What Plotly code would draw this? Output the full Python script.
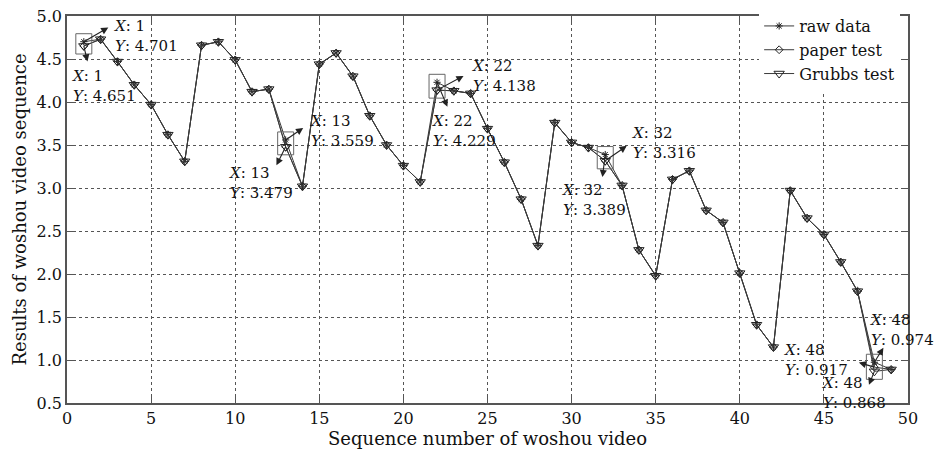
import plotly.graph_objects as go

# ---------------- data ----------------
seq = list(range(1, 50))
raw_data = [4.701, 4.73, 4.47, 4.20, 3.97, 3.62, 3.31, 4.66, 4.70, 4.49,
            4.12, 4.15, 3.559, 3.02, 4.44, 4.57, 4.30, 3.84, 3.50, 3.26,
            3.07, 4.229, 4.13, 4.10, 3.69, 3.30, 2.87, 2.33, 3.76, 3.53,
            3.47, 3.389, 3.03, 2.28, 1.98, 3.10, 3.20, 2.74, 2.60, 2.01,
            1.41, 1.15, 2.97, 2.65, 2.46, 2.14, 1.80, 0.974, 0.89]
paper_test = [4.651, 4.73, 4.47, 4.20, 3.97, 3.62, 3.31, 4.66, 4.70, 4.49,
              4.12, 4.15, 3.479, 3.02, 4.44, 4.57, 4.30, 3.84, 3.50, 3.26,
              3.07, 4.138, 4.13, 4.10, 3.69, 3.30, 2.87, 2.33, 3.76, 3.53,
              3.47, 3.316, 3.03, 2.28, 1.98, 3.10, 3.20, 2.74, 2.60, 2.01,
              1.41, 1.15, 2.97, 2.65, 2.46, 2.14, 1.80, 0.917, 0.89]
grubbs_test = [4.651, 4.73, 4.47, 4.20, 3.97, 3.62, 3.31, 4.66, 4.70, 4.49,
               4.12, 4.15, 3.479, 3.02, 4.44, 4.57, 4.30, 3.84, 3.50, 3.26,
               3.07, 4.138, 4.13, 4.10, 3.69, 3.30, 2.87, 2.33, 3.76, 3.53,
               3.47, 3.316, 3.03, 2.28, 1.98, 3.10, 3.20, 2.74, 2.60, 2.01,
               1.41, 1.15, 2.97, 2.65, 2.46, 2.14, 1.80, 0.868, 0.89]
series_names = ["raw data", "paper test", "Grubbs test"]
x_ticks = [0, 5, 10, 15, 20, 25, 30, 35, 40, 45, 50]
y_ticks = [0.5, 1.0, 1.5, 2.0, 2.5, 3.0, 3.5, 4.0, 4.5, 5.0]
x_title = "Sequence number of woshou video"
y_title = "Results of woshou video sequence"

# data tips: (series index, sequence number)
tip_refs = [(0, 1), (1, 1), (0, 13), (1, 13), (1, 22), (0, 22),
            (1, 32), (0, 32), (0, 48), (1, 48), (2, 48)]

# ---------------- styling ----------------
FONT = "DejaVu Serif"
LINE_C = "#3a3a3a"
W, H = 936, 451
M = dict(l=67, r=28, t=16, b=48, autoexpand=False)
Y_RANGE = [0.5, 5.0]
px_per_y = (H - M["t"] - M["b"]) / (Y_RANGE[1] - Y_RANGE[0])
BOX_HALF = 8  # px

# per tip: arrow head offset (px, screen), text top-left offset (px, screen)
tip_style = [
    (26, -15, 28, -27),
    (4, 17, -14, 19),
    (19, -13, 22, -30),
    (-10, 20, -59, 15),
    (28, -15, 33, -35),
    (11, 26, -7, 28),
    (23, -16, 25, -39),
    (-3, 24, -45, 24),
    (10, -16, -6, -53),
    (-17, -5, -92, -28),
    (-6, 15, -54, 1),
]

all_series = [raw_data, paper_test, grubbs_test]
symbols = ["asterisk-open", "diamond-open", "triangle-down-open"]
sizes = [6, 6, 9]

fig = go.Figure()
for name, ys, sym, sz in zip(series_names, all_series, symbols, sizes):
    fig.add_trace(go.Scatter(
        x=seq, y=ys, name=name, mode="lines+markers",
        line=dict(color=LINE_C, width=1),
        marker=dict(symbol=sym, size=sz, color="#222",
                    line=dict(color="#222", width=1)),
    ))

annotations = []
shapes = []
groups = {}
for (si, n), (adx, ady, tdx, tdy) in zip(tip_refs, tip_style):
    yv = all_series[si][n - 1]
    groups.setdefault(n, []).append(yv)
    annotations.append(dict(x=n, y=yv, xref="x", yref="y", text="",
                            showarrow=True, ax=adx, ay=ady,
                            arrowside="start", startarrowhead=2,
                            startarrowsize=1.3, arrowwidth=1.1,
                            arrowcolor="#222", standoff=0, startstandoff=0))
    annotations.append(dict(x=n, y=yv, xref="x", yref="y",
                            text=f"<i>X</i>: {n}<br><i>Y</i>: {yv:.3f}",
                            showarrow=False, xanchor="left", yanchor="top",
                            align="left", xshift=tdx, yshift=-tdy,
                            font=dict(family=FONT, size=15, color="#111")))

pad = BOX_HALF / px_per_y
for n, vals in groups.items():
    shapes.append(dict(type="rect", xref="x", yref="y",
                       xsizemode="pixel", xanchor=n,
                       x0=-BOX_HALF, x1=BOX_HALF,
                       y0=min(vals) - pad, y1=max(vals) + pad,
                       line=dict(color="#666", width=1)))

fig.update_layout(
    width=W, height=H,
    margin=M,
    paper_bgcolor="white", plot_bgcolor="white",
    font=dict(family=FONT, size=16, color="#111"),
    showlegend=True,
    legend=dict(x=0.823, y=1.018, xanchor="left", yanchor="top",
                bgcolor="white", borderwidth=0,
                font=dict(family=FONT, size=16, color="#111"),
                tracegroupgap=0, itemwidth=30),
    annotations=annotations,
    shapes=shapes,
)
axis_common = dict(showline=True, linecolor="#555", linewidth=1.5,
                   mirror="ticks", ticks="inside", ticklen=7,
                   tickcolor="#555", tickwidth=1,
                   showgrid=True, gridcolor="#555", griddash="dot",
                   gridwidth=1, zeroline=False, automargin=False,
                   tickfont=dict(family=FONT, size=16, color="#111"))
fig.update_xaxes(range=[0, 50], tickvals=x_ticks, ticklabelstandoff=0,
                 title=dict(text=x_title, font=dict(family=FONT, size=18),
                            standoff=2),
                 **axis_common)
fig.update_yaxes(range=Y_RANGE, tickvals=y_ticks, tickformat=".1f",
                 title=dict(text=y_title, font=dict(family=FONT, size=18),
                            standoff=5),
                 **axis_common)

fig.write_html("out.html")
